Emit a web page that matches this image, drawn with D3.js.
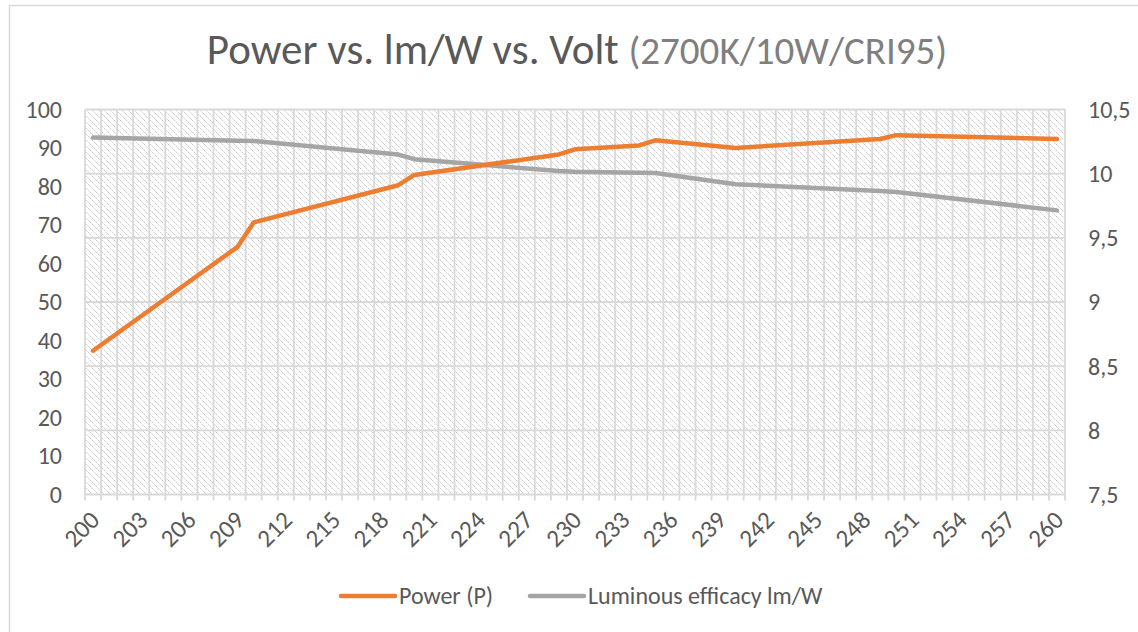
<!DOCTYPE html>
<html>
<head>
<meta charset="utf-8">
<script src="https://cdn.jsdelivr.net/npm/d3@7"></script>
<style>
  html, body { margin: 0; padding: 0; background: #fff; }
  svg { display: block; }
</style>
</head>
<body>
<div id="chart"></div>
<script>
const width = 1138;
const height = 632;

// category axis (volts)
const voltages = [200, 201, 202, 203, 204, 205, 206, 207, 208, 209, 210, 211, 212, 213, 214, 215,
  216, 217, 218, 219, 220, 221, 222, 223, 224, 225, 226, 227, 228, 229, 230, 231, 232, 233, 234,
  235, 236, 237, 238, 239, 240, 241, 242, 243, 244, 245, 246, 247, 248, 249, 250, 251, 252, 253,
  254, 255, 256, 257, 258, 259, 260];

// measured points (line connects them across empty categories)
const measuredVolts = [200, 209, 210, 219, 220, 229, 230, 234, 235, 240, 249, 250, 260];
const power = [8.62, 9.43, 9.62, 9.91, 9.99, 10.15, 10.19, 10.22, 10.26, 10.20, 10.27, 10.30, 10.27];
const efficacy = [92.7, 91.9, 91.8, 88.3, 87.1, 84.0, 83.8, 83.6, 83.5, 80.6, 78.8, 78.6, 73.8];

const leftTicks = [0, 10, 20, 30, 40, 50, 60, 70, 80, 90, 100];
const rightTicks = [7.5, 8, 8.5, 9, 9.5, 10, 10.5];

const font = 'Carlito, Calibri, "Liberation Sans", Arial, sans-serif';
const textColor = '#595959';
const gridColor = '#d9d9d9';

const plot = {left: 85, right: 1065, top: 109.5, bottom: 494.5};

const x = d3.scaleBand()
  .domain(voltages)
  .range([plot.left, plot.right])
  .padding(0);
const xc = (v)=>x(v) + x.bandwidth() / 2;

const yLeft = d3.scaleLinear().domain([0, 100]).range([plot.bottom, plot.top]);
const yRight = d3.scaleLinear().domain([7.5, 10.5]).range([plot.bottom, plot.top]);

const svg = d3.select('#chart').append('svg')
  .attr('width', width)
  .attr('height', height);

// hatch pattern for the plot area
const defs = svg.append('defs');
const pat = defs.append('pattern')
  .attr('id', 'hatch')
  .attr('patternUnits', 'userSpaceOnUse')
  .attr('width', 6)
  .attr('height', 6);
pat.append('path')
  .attr('d', 'M0,0 L6,6 M-3,3 L3,9 M3,-3 L9,3')
  .attr('stroke', '#c8c8c8')
  .attr('stroke-width', 1)
  .attr('stroke-dasharray', '2,1');

// chart border
svg.append('rect')
  .attr('x', 9.5)
  .attr('y', 5.5)
  .attr('width', width + 20)
  .attr('height', height + 20)
  .attr('fill', '#fff')
  .attr('stroke', gridColor)
  .attr('stroke-width', 1.5);

// title
const title = svg.append('text')
  .attr('x', 577)
  .attr('y', 64)
  .attr('text-anchor', 'middle')
  .attr('font-family', font);
title.append('tspan')
  .attr('font-size', 43)
  .attr('fill', '#595959')
  .text('Power vs. lm/W vs. Volt ');
title.append('tspan')
  .attr('font-size', 39)
  .attr('fill', '#7f7f7f')
  .text('(2700K/10W/CRI95)');

// plot background
svg.append('rect')
  .attr('x', plot.left)
  .attr('y', plot.top)
  .attr('width', plot.right - plot.left)
  .attr('height', plot.bottom - plot.top)
  .attr('fill', 'url(#hatch)');

// vertical gridlines at category boundaries
const bounds = voltages.map((v)=>x(v)).concat([plot.right]);
svg.append('g')
  .attr('stroke', gridColor)
  .attr('stroke-width', 1.8)
  .selectAll('line')
  .data(bounds)
  .join('line')
  .attr('x1', (d)=>d)
  .attr('x2', (d)=>d)
  .attr('y1', plot.top)
  .attr('y2', plot.bottom + 6);

// horizontal gridlines
svg.append('g')
  .attr('stroke', gridColor)
  .attr('stroke-width', 1.8)
  .selectAll('line')
  .data(rightTicks)
  .join('line')
  .attr('x1', plot.left)
  .attr('x2', plot.right)
  .attr('y1', (d)=>yRight(d))
  .attr('y2', (d)=>yRight(d));

// left axis labels
svg.append('g')
  .selectAll('text')
  .data(leftTicks)
  .join('text')
  .attr('x', 62)
  .attr('y', (d)=>yLeft(d))
  .attr('dy', '0.35em')
  .attr('text-anchor', 'end')
  .attr('font-family', font)
  .attr('font-size', 24)
  .attr('fill', textColor)
  .text((d)=>d);

// right axis labels
svg.append('g')
  .selectAll('text')
  .data(rightTicks)
  .join('text')
  .attr('x', 1088)
  .attr('y', (d)=>yRight(d))
  .attr('dy', '0.35em')
  .attr('text-anchor', 'start')
  .attr('font-family', font)
  .attr('font-size', 24)
  .attr('fill', textColor)
  .text((d)=>String(d).replace('.', ','));

// x axis labels, every third volt
svg.append('g')
  .selectAll('text')
  .data(voltages.filter((v, i)=>i % 3 === 0))
  .join('text')
  .attr('transform', (d)=>`translate(${xc(d) + 8},${plot.bottom + 27}) rotate(-45)`)
  .attr('text-anchor', 'end')
  .attr('font-family', font)
  .attr('font-size', 25)
  .attr('fill', textColor)
  .text((d)=>d);

// series
const effPts = measuredVolts.map((v, i)=>[xc(v), yLeft(efficacy[i])]);
const powPts = measuredVolts.map((v, i)=>[xc(v), yRight(power[i])]);
const line = d3.line();

svg.append('path')
  .attr('d', line(effPts))
  .attr('fill', 'none')
  .attr('stroke', '#a5a5a5')
  .attr('stroke-width', 4.5)
  .attr('stroke-linejoin', 'round')
  .attr('stroke-linecap', 'round');

svg.append('path')
  .attr('d', line(powPts))
  .attr('fill', 'none')
  .attr('stroke', '#ed7d31')
  .attr('stroke-width', 4.5)
  .attr('stroke-linejoin', 'round')
  .attr('stroke-linecap', 'round');

// legend
const legend = [
  {name: 'Power (P)', color: '#ed7d31', x: 341},
  {name: 'Luminous efficacy lm/W', color: '#a5a5a5', x: 530},
];
const lg = svg.append('g')
  .selectAll('g')
  .data(legend)
  .join('g')
  .attr('transform', (d)=>`translate(${d.x},596)`);
lg.append('line')
  .attr('x1', 0)
  .attr('x2', 54)
  .attr('stroke', (d)=>d.color)
  .attr('stroke-width', 4.5)
  .attr('stroke-linecap', 'round');
lg.append('text')
  .attr('x', 58)
  .attr('dy', '0.35em')
  .attr('font-family', font)
  .attr('font-size', 24)
  .attr('fill', textColor)
  .text((d)=>d.name);
</script>
</body>
</html>
